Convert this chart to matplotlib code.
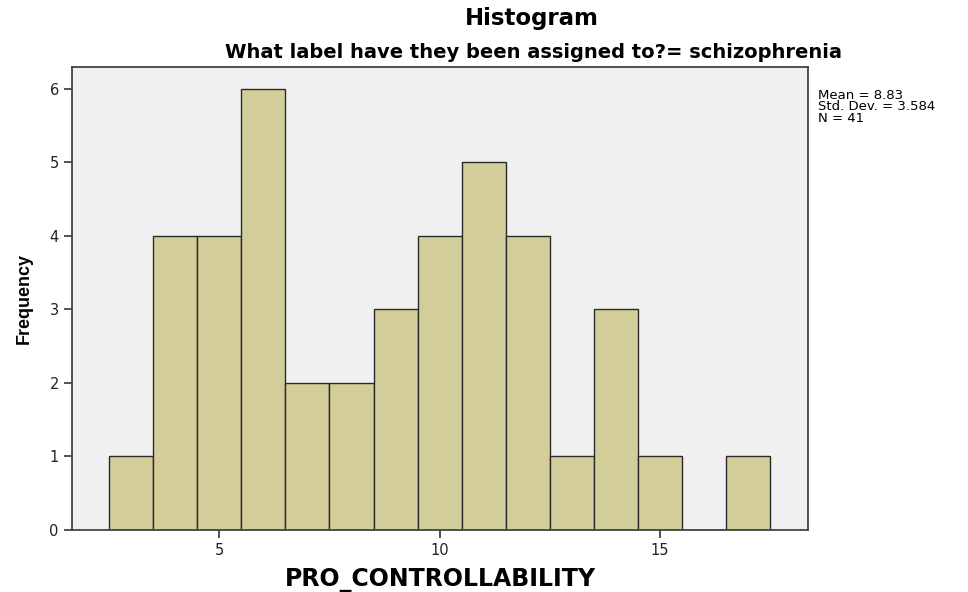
import matplotlib.pyplot as plt
import numpy as np

# histogram bins (centers) and counts
centers = [3, 4, 5, 6, 7, 8, 9, 10, 11, 12, 13, 14, 15, 16, 17]
counts = [1, 4, 4, 6, 2, 2, 3, 4, 5, 4, 1, 3, 1, 0, 1]
stats_lines = ["Mean = 8.83", "Std. Dev. = 3.584", "N = 41"]

plt.rcParams['font.family'] = ['DejaVu Sans']

fig = plt.figure(figsize=(9.68, 5.92), dpi=100)
ax = fig.add_axes([0.0744, 0.105, 0.7606, 0.782])
ax.set_facecolor('#f0f0f0')

ax.bar(centers, counts, width=1.0, color='#d3ce99', edgecolor='#2a2a2a', linewidth=1.0)

ax.set_xlim(1.66, 18.36)
ax.set_ylim(0, 6.3)
ax.set_xticks([5, 10, 15])
ax.set_yticks(range(0, 7))
ax.tick_params(axis='both', direction='out', length=6, width=1.2, colors='#333333',
               labelsize=10.5, labelcolor='#222222')
for s in ax.spines.values():
    s.set_color('#444444')
    s.set_linewidth(1.3)

ax.set_xlabel("PRO_CONTROLLABILITY", fontsize=17, fontweight='bold', labelpad=7)
ax.set_ylabel("Frequency", fontsize=13, fontweight='bold', family='Liberation Sans',
              labelpad=12)

fig.text(0.549, 0.969, "Histogram", ha='center', va='center', fontsize=16.5, fontweight='bold')
fig.text(0.551, 0.912, "What label have they been assigned to?= schizophrenia", ha='center',
         va='center', fontsize=14, fontweight='bold')
fig.text(0.845, 0.85, "\n".join(stats_lines), ha='left', va='top', fontsize=9.5,
         linespacing=0.85)

fig.savefig("out.png", dpi=100)
